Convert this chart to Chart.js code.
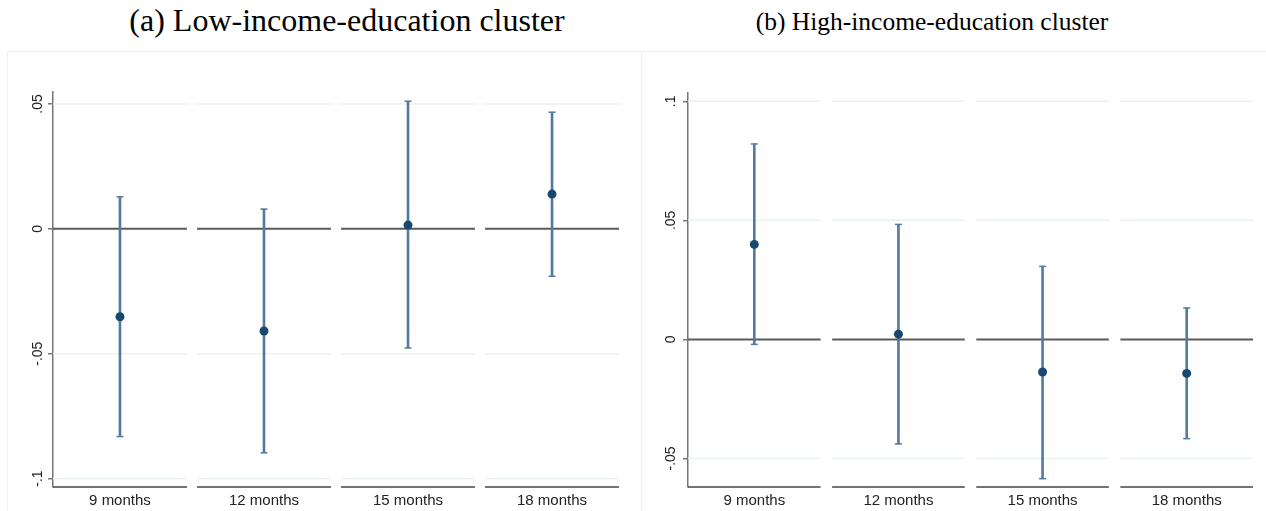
<!DOCTYPE html>
<html>
<head>
<meta charset="utf-8">
<script src="https://cdn.jsdelivr.net/npm/chart.js@4/dist/chart.umd.min.js"></script>
<style>
  html, body { margin: 0; padding: 0; background: #fff; }
  body { width: 1266px; height: 511px; position: relative; overflow: hidden; }
  .title { position: absolute; top: 0; white-space: nowrap; transform: translateX(-50%);
           font-family: "Liberation Serif", "Times New Roman", serif; color: #000; }
  #titleA { left: 347px; font-size: 32px; line-height: 40px; }
  #titleB { left: 932px; font-size: 25.5px; line-height: 44px; }
  canvas { position: absolute; top: 0; }
  #panelA { left: 0; }
  #panelB { left: 641px; }
</style>
</head>
<body>
<div class="title" id="titleA">(a) Low-income-education cluster</div>
<div class="title" id="titleB">(b) High-income-education cluster</div>
<canvas id="panelA" width="640" height="511"></canvas>
<canvas id="panelB" width="625" height="511"></canvas>
<script>
// Months after the event, one sub-panel each
const months = ['9 months', '12 months', '15 months', '18 months'];

// Low-income-education cluster: point estimates and 95% CI bounds
const lowEstimate = [-0.0352, -0.0409, 0.0015, 0.0139];
const lowLower    = [-0.0832, -0.0897, -0.0477, -0.0190];
const lowUpper    = [0.0128, 0.0079, 0.0511, 0.0467];

// High-income-education cluster: point estimates and 95% CI bounds
const highEstimate = [0.0399, 0.0022, -0.0137, -0.0143];
const highLower    = [-0.0021, -0.0439, -0.0585, -0.0417];
const highUpper    = [0.0821, 0.0483, 0.0307, 0.0132];

// Y-axis ticks and their labels
const lowTicks       = [-0.1, -0.05, 0, 0.05];
const lowTickLabels  = ['-.1', '-.05', '0', '.05'];
const highTicks      = [-0.05, 0, 0.05, 0.1];
const highTickLabels = ['-.05', '0', '.05', '.1'];

// Y-axis extents
const lowRange  = [-0.1034, 0.0548];
const highRange = [-0.0620, 0.1035];

const CI_COLOR = '#557a9f';
const POINT_COLOR = '#1a476f';
const GRID_COLOR = '#e9f1f2';
const ZERO_COLOR = '#5a5a5a';
const AXIS_COLOR = '#444';

// Per-month segmented grid lines, zero line and base line, plus the faint frame
const segmentGrid = {
  id: 'segmentGrid',
  beforeDraw(chart, args, opts) {
    const { ctx } = chart;
    ctx.save();
    ctx.strokeStyle = '#efefef';
    ctx.lineWidth = 1;
    ctx.strokeRect(opts.frame[0] + 0.5, opts.frame[1] + 0.5, opts.frame[2], opts.frame[3]);
    ctx.restore();
  },
  beforeDatasetsDraw(chart, args, opts) {
    const { ctx, scales: { x, y } } = chart;
    const half = opts.halfWidth;
    ctx.save();
    months.forEach((_, i) => {
      const x0 = x.getPixelForValue(i - half);
      const x1 = x.getPixelForValue(i + half);
      const seg = (py, color, w) => {
        ctx.beginPath();
        ctx.strokeStyle = color;
        ctx.lineWidth = w;
        ctx.moveTo(x0, py);
        ctx.lineTo(x1, py);
        ctx.stroke();
      };
      opts.ticks.forEach(v => {
        if (v !== 0) seg(y.getPixelForValue(v), GRID_COLOR, 1.5);
      });
      seg(y.getPixelForValue(0), ZERO_COLOR, 2);
      seg(y.bottom, AXIS_COLOR, 1.5);
    });
    ctx.restore();
  }
};

function buildPanel(id, est, lower, upper, ticks, tickLabels, range, layout) {
  const bars = months.map((_, i) => ({ x: i, y: [lower[i], upper[i]] }));
  const caps = months.flatMap((_, i) => [{ x: i, y: lower[i] }, { x: i, y: upper[i] }]);
  const points = months.map((_, i) => ({ x: i, y: est[i] }));

  return new Chart(document.getElementById(id), {
    type: 'scatter',
    data: {
      datasets: [
        { type: 'bar', data: bars, backgroundColor: CI_COLOR, barThickness: 2, borderWidth: 0, order: 3 },
        { data: caps, pointStyle: 'line', radius: 3.5, borderColor: CI_COLOR, borderWidth: 1.5, order: 2 },
        { data: points, pointStyle: 'circle', radius: 4.5, backgroundColor: POINT_COLOR, borderWidth: 0, order: 1 }
      ]
    },
    options: {
      responsive: false,
      animation: false,
      devicePixelRatio: 1,
      layout: { padding: { top: layout.top, right: layout.right, left: 0, bottom: 0 } },
      plugins: {
        legend: { display: false },
        tooltip: { enabled: false },
        segmentGrid: { ticks, halfWidth: layout.half, frame: layout.frame }
      },
      scales: {
        x: {
          type: 'linear',
          offset: false,
          min: layout.xMin,
          max: layout.xMax,
          grid: { display: false, drawTicks: false },
          border: { display: false },
          afterBuildTicks: s => { s.ticks = months.map((_, i) => ({ value: i })); },
          afterFit: s => { s.height = 24; },
          ticks: {
            padding: 5,
            color: '#222',
            font: { family: '"Liberation Sans", Arial, sans-serif', size: 15 },
            maxRotation: 0,
            callback: v => months[v]
          }
        },
        y: {
          min: range[0],
          max: range[1],
          grid: { drawOnChartArea: false, drawTicks: true, tickLength: 5, color: '#777', lineWidth: 1.5 },
          border: { display: true, color: '#777', width: 1.5 },
          afterBuildTicks: s => { s.ticks = ticks.map(v => ({ value: v })); },
          afterFit: s => { s.width = layout.axisWidth; },
          ticks: {
            minRotation: 90,
            maxRotation: 90,
            crossAlign: 'center',
            padding: layout.tickPad,
            color: '#222',
            font: { family: '"Liberation Sans", Arial, sans-serif', size: 14 },
            callback: (v, i) => tickLabels[i]
          }
        }
      }
    },
    plugins: [segmentGrid]
  });
}

buildPanel('panelA', lowEstimate, lowLower, lowUpper, lowTicks, lowTickLabels, lowRange,
  { top: 92, right: 21, axisWidth: 53, tickPad: -2, xMin: -0.465, xMax: 3.465, half: 0.465,
    frame: [7, 51, 633, 470] });

buildPanel('panelB', highEstimate, highLower, highUpper, highTicks, highTickLabels, highRange,
  { top: 93, right: 13, axisWidth: 47, tickPad: 0, xMin: -0.46, xMax: 3.46, half: 0.46,
    frame: [0, 51, 630, 470] });
</script>
</body>
</html>
